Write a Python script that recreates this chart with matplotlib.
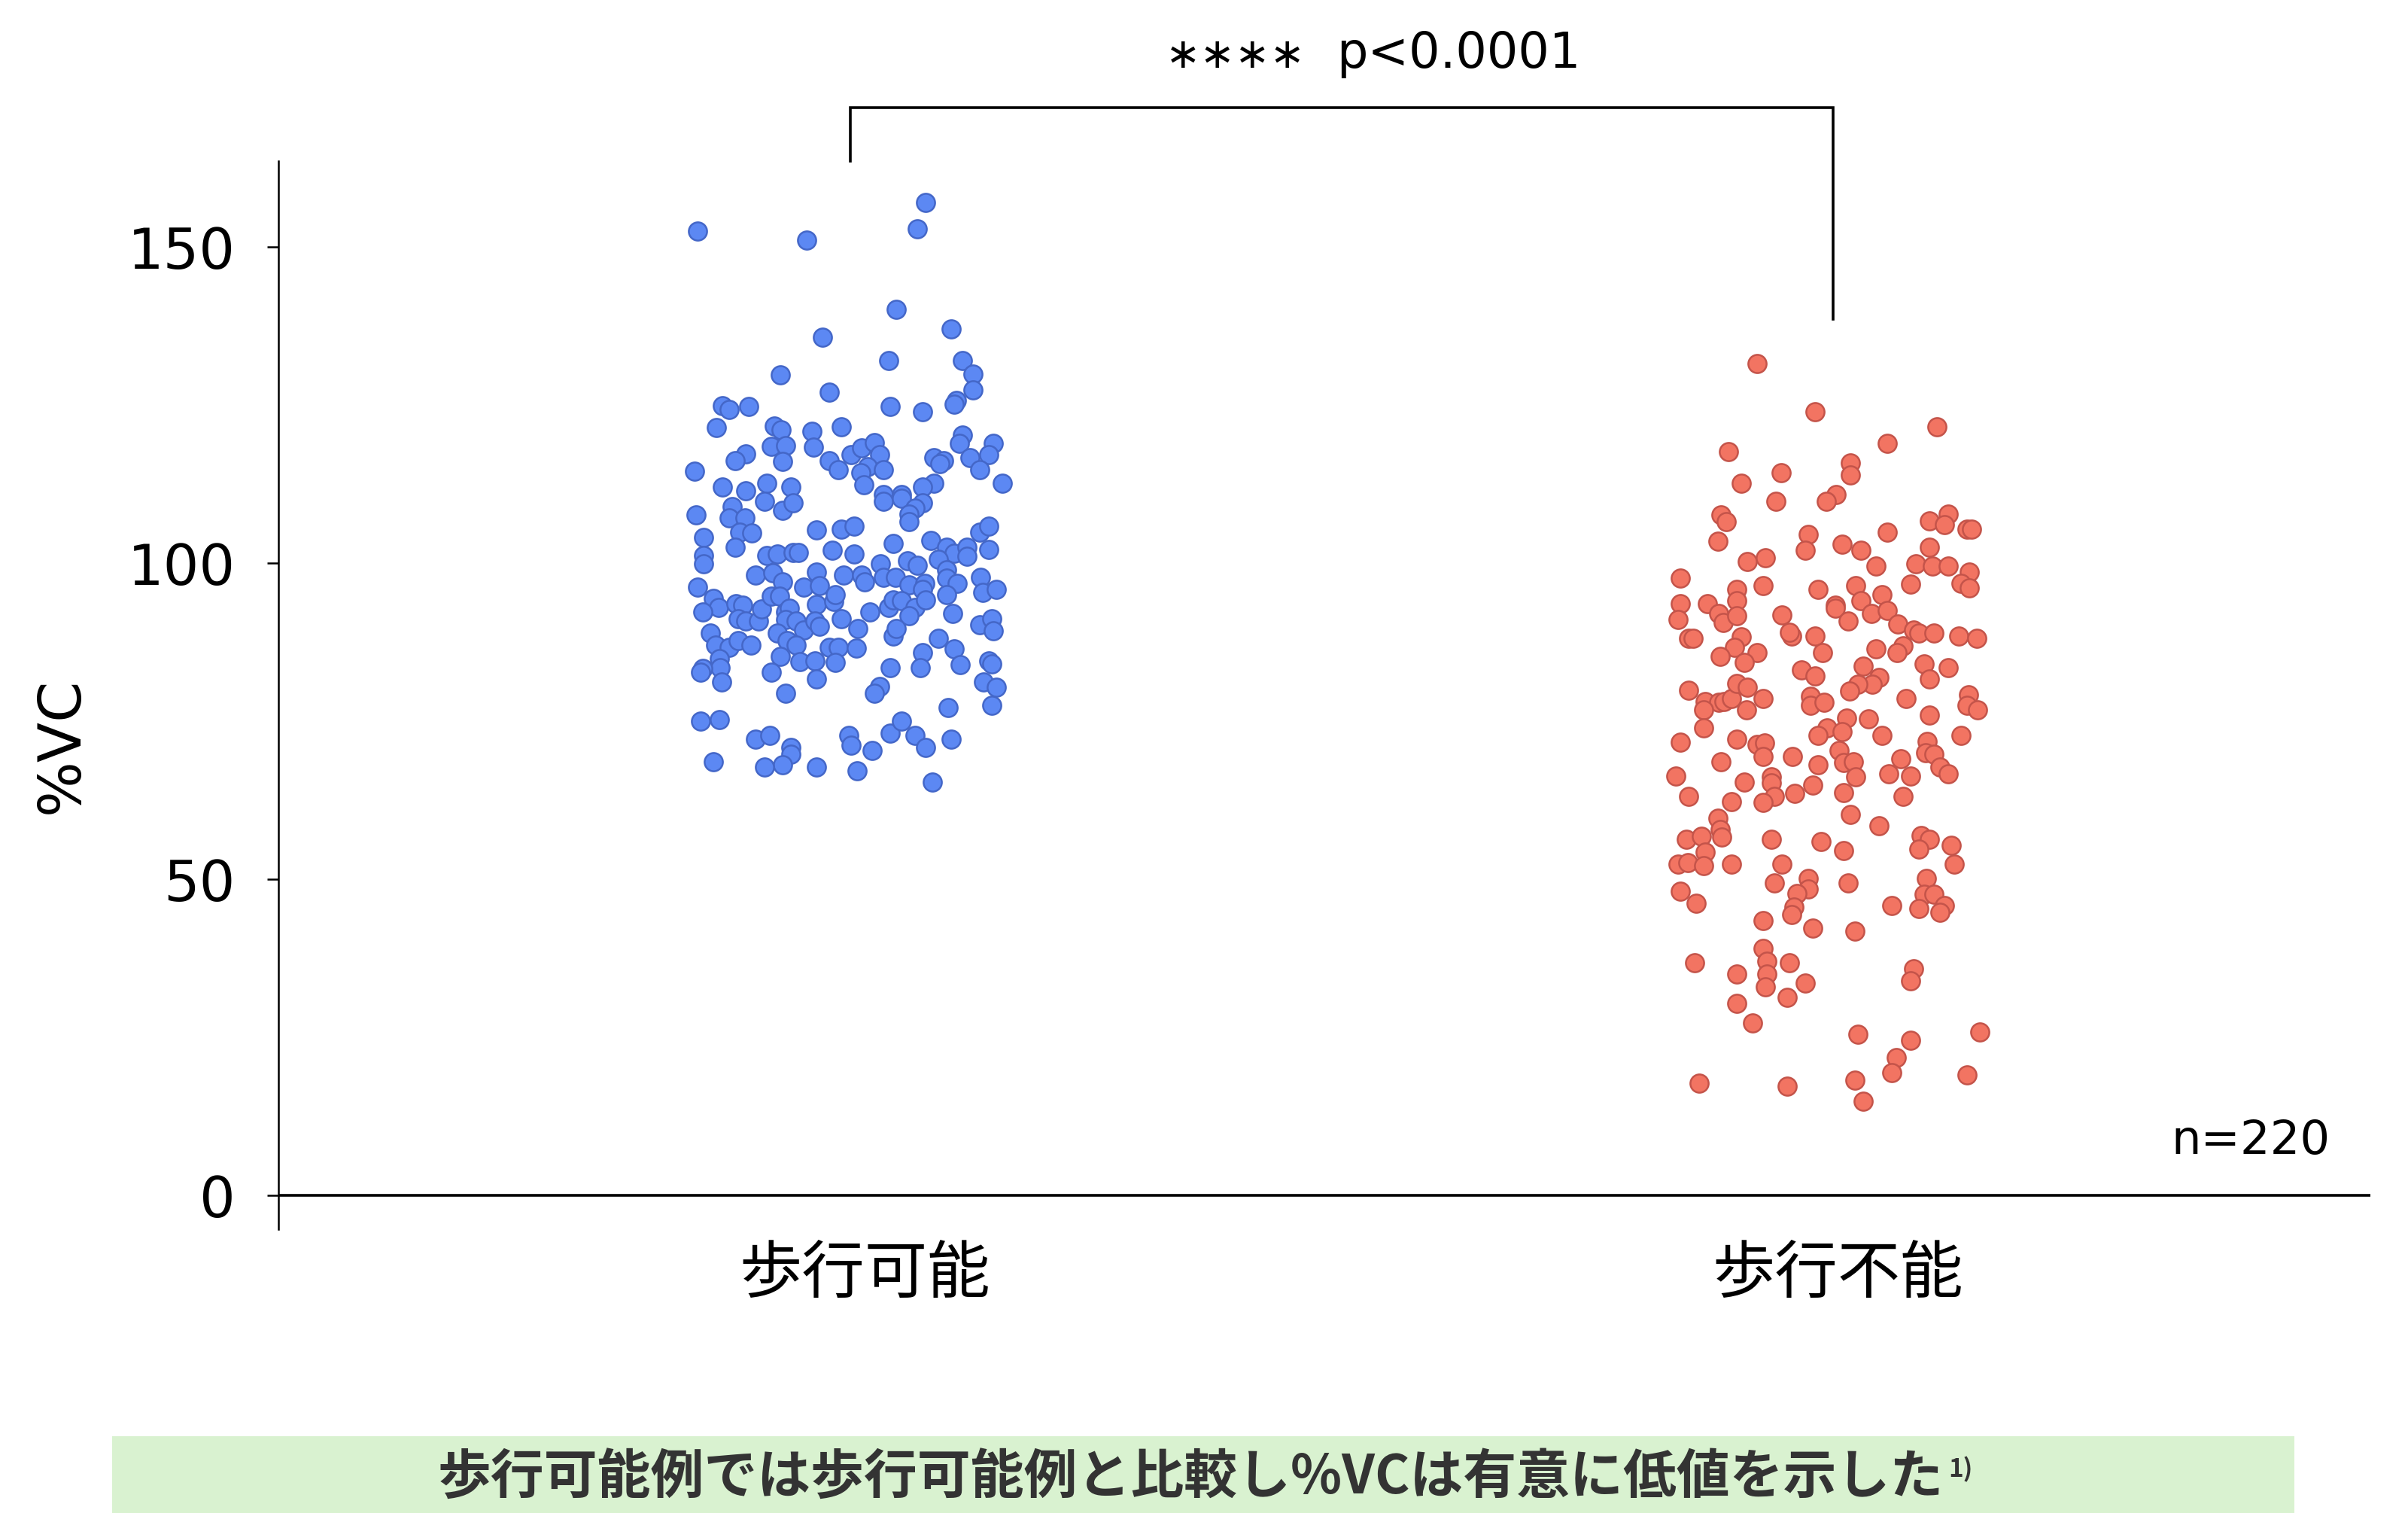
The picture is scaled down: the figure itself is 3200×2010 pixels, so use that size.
import numpy as np
import matplotlib.pyplot as plt
from matplotlib.patches import Rectangle

groups = ['歩行可能', '歩行不能']
yticks = [0, 50, 100, 150]
stars = '∗∗∗∗'
p_label = 'p<0.0001'
n_label = 'n=220'
banner_text = '歩行可能例では歩行可能例と比較し%VCは有意に低値を示した'
banner_ref = '1)'

# (horizontal jitter within group, %VC)
walk_pts = [
    (-0.155, 152.5), (-0.044, 151.1), (0.077, 157.1), (0.068, 152.9), (0.047, 140.2),
    (0.103, 137.1), (-0.028, 135.7), (0.039, 132.1), (0.114, 132.1), (0.125, 129.9),
    (0.125, 127.4), (-0.071, 129.8), (-0.021, 127.1), (-0.130, 124.9), (-0.123, 124.3),
    (-0.103, 124.8), (0.041, 124.8), (0.074, 124.0), (0.108, 125.8), (0.106, 125.2),
    (-0.136, 121.5), (-0.077, 121.7), (-0.070, 121.1), (-0.039, 120.9), (-0.009, 121.6),
    (0.114, 120.3), (0.111, 118.9), (0.146, 119.0), (-0.080, 118.5), (-0.066, 118.6),
    (-0.037, 118.4), (-0.106, 117.3), (-0.117, 116.2), (-0.069, 116.1), (-0.021, 116.2),
    (-0.012, 114.8), (0.001, 117.2), (0.012, 118.2), (0.025, 119.1), (0.030, 117.2),
    (0.018, 115.3), (0.011, 114.3), (0.034, 114.8), (0.014, 112.4), (0.085, 116.7),
    (0.095, 116.2), (0.091, 115.7), (0.122, 116.7), (0.141, 117.2), (0.132, 114.8),
    (-0.158, 114.5), (0.155, 112.7), (0.085, 112.7), (0.074, 112.0), (-0.130, 112.0),
    (-0.106, 111.4), (-0.085, 112.7), (-0.060, 112.0), (0.034, 110.9), (0.052, 110.9),
    (-0.087, 109.8), (-0.069, 108.4), (-0.058, 109.5), (0.034, 109.8), (0.052, 110.3),
    (0.074, 109.6), (0.066, 108.7), (0.060, 107.8), (0.060, 106.6), (-0.157, 107.7),
    (-0.120, 109.0), (-0.123, 107.2), (-0.107, 107.2), (-0.112, 104.9), (-0.100, 104.8),
    (-0.117, 102.5), (-0.149, 104.1), (-0.149, 101.2), (-0.149, 99.9), (-0.034, 105.3),
    (-0.009, 105.4), (0.004, 105.8), (0.044, 103.1), (0.082, 103.6), (0.098, 102.5),
    (0.106, 101.6), (0.119, 102.5), (0.119, 101.1), (0.132, 104.9), (0.141, 105.8),
    (0.141, 102.2), (0.090, 100.6), (-0.018, 102.1), (0.004, 101.4), (-0.085, 101.2),
    (-0.074, 101.4), (-0.058, 101.7), (-0.053, 101.7), (-0.096, 98.1), (-0.079, 98.5),
    (-0.069, 97.1), (-0.034, 98.6), (-0.047, 96.2), (-0.031, 96.5), (-0.007, 98.1),
    (0.012, 98.1), (0.015, 97.1), (0.031, 99.9), (0.034, 97.8), (0.046, 97.8),
    (0.058, 100.4), (0.068, 99.7), (0.060, 96.6), (0.076, 96.8), (0.074, 95.9),
    (0.098, 98.9), (0.098, 97.7), (0.109, 96.8), (0.098, 95.0), (0.133, 97.8),
    (0.135, 95.4), (0.149, 95.8), (-0.155, 96.2), (-0.139, 94.4), (-0.134, 93.0),
    (-0.150, 92.3), (-0.116, 93.6), (-0.109, 93.3), (-0.114, 91.2), (-0.106, 90.9),
    (-0.093, 90.9), (-0.090, 92.7), (-0.080, 94.8), (-0.072, 94.8), (-0.066, 92.3),
    (-0.062, 92.9), (-0.066, 91.1), (-0.055, 90.9), (-0.047, 89.4), (-0.034, 93.5),
    (-0.036, 90.9), (-0.031, 90.0), (-0.017, 93.9), (-0.015, 95.0), (-0.009, 91.2),
    (0.008, 89.7), (0.020, 92.3), (0.039, 93.0), (0.044, 94.2), (0.052, 94.1),
    (0.066, 93.0), (0.060, 91.7), (0.077, 94.2), (0.104, 92.1), (0.132, 90.3),
    (0.144, 91.2), (0.146, 89.3), (-0.142, 89.0), (-0.137, 87.1), (-0.123, 86.7),
    (-0.114, 87.7), (-0.101, 87.1), (-0.133, 84.9), (-0.132, 83.5), (-0.150, 83.3),
    (-0.152, 82.8), (-0.131, 81.2), (-0.074, 88.9), (-0.064, 87.7), (-0.055, 87.1),
    (-0.071, 85.3), (-0.051, 84.4), (-0.036, 84.6), (-0.080, 82.7), (-0.034, 81.7),
    (-0.066, 79.4), (-0.021, 86.7), (-0.012, 86.7), (-0.015, 84.3), (0.006, 86.6),
    (0.044, 88.5), (0.047, 89.7), (0.041, 83.5), (0.030, 80.5), (0.025, 79.4),
    (0.074, 85.9), (0.071, 83.5), (0.090, 88.1), (0.106, 86.4), (0.112, 84.0),
    (0.141, 84.6), (0.144, 84.1), (0.136, 81.2), (0.149, 80.4), (0.144, 77.5),
    (0.100, 77.2), (-0.152, 75.0), (-0.133, 75.3), (-0.096, 72.2), (-0.082, 72.7),
    (-0.060, 70.9), (-0.060, 69.8), (-0.069, 68.1), (-0.087, 67.7), (-0.139, 68.6),
    (-0.034, 67.7), (-0.001, 72.7), (0.001, 71.2), (0.022, 70.4), (0.007, 67.2),
    (0.041, 73.1), (0.052, 75.0), (0.066, 72.7), (0.077, 70.9), (0.103, 72.2),
    (0.084, 65.4),
]

nonwalk_pts = [
    (-0.077, 131.6), (-0.018, 123.9), (0.106, 121.6), (0.055, 119.0), (-0.106, 117.6),
    (-0.053, 114.3), (-0.093, 112.6), (-0.058, 109.8), (0.018, 115.8), (0.018, 113.9),
    (0.003, 110.8), (-0.007, 109.8), (-0.114, 107.7), (-0.109, 106.6), (-0.117, 103.5),
    (-0.025, 104.6), (-0.028, 102.1), (0.009, 103.0), (0.028, 102.1), (0.055, 104.9),
    (0.098, 106.7), (0.117, 107.8), (0.113, 106.1), (0.136, 105.4), (0.141, 105.4),
    (0.098, 102.5), (0.044, 99.5), (0.084, 99.9), (0.101, 99.5), (0.117, 99.5),
    (0.139, 98.6), (0.130, 96.8), (0.139, 96.1), (0.079, 96.7), (-0.087, 100.3),
    (-0.069, 100.8), (-0.155, 97.7), (-0.071, 96.4), (-0.098, 95.9), (-0.015, 95.9),
    (0.023, 96.5), (0.050, 95.0), (-0.155, 93.6), (-0.128, 93.6), (-0.098, 94.1),
    (0.002, 93.4), (0.028, 94.1), (-0.158, 91.1), (-0.116, 92.1), (-0.112, 90.6),
    (-0.098, 91.7), (-0.147, 88.1), (-0.142, 88.1), (-0.052, 91.8), (-0.042, 88.5),
    (-0.044, 89.1), (0.002, 92.9), (0.015, 90.8), (0.039, 92.1), (0.055, 92.5),
    (0.066, 90.4), (0.082, 89.4), (0.087, 88.9), (0.103, 88.9), (0.128, 88.5),
    (0.146, 88.1), (-0.018, 88.5), (-0.011, 85.8), (0.044, 86.4), (0.071, 86.9),
    (0.065, 85.9), (-0.093, 88.3), (-0.100, 86.7), (-0.077, 85.8), (-0.115, 85.3),
    (-0.090, 84.3), (0.093, 84.1), (0.098, 81.7), (0.117, 83.5), (0.031, 83.7),
    (0.047, 81.9), (0.040, 80.8), (0.025, 80.8), (0.017, 79.8), (-0.032, 83.1),
    (-0.018, 82.2), (-0.147, 79.9), (-0.130, 78.1), (-0.116, 78.0), (-0.111, 78.1),
    (-0.103, 78.6), (-0.098, 81.0), (-0.087, 80.4), (-0.071, 78.6), (-0.132, 76.8),
    (-0.088, 76.8), (-0.132, 74.0), (-0.023, 79.0), (-0.023, 77.5), (-0.009, 78.0),
    (0.074, 78.6), (0.138, 79.2), (0.136, 77.5), (0.147, 76.8), (0.098, 76.0),
    (0.014, 75.5), (0.036, 75.4), (-0.006, 74.0), (-0.015, 72.8), (0.009, 73.4),
    (0.050, 72.7), (0.130, 72.7), (-0.155, 71.7), (-0.098, 72.2), (-0.077, 71.3),
    (-0.070, 71.6), (-0.071, 69.4), (-0.041, 69.4), (0.006, 70.4), (0.011, 68.5),
    (0.021, 68.6), (0.023, 66.2), (-0.015, 68.1), (0.096, 71.8), (0.094, 70.0),
    (0.103, 69.8), (0.109, 67.7), (0.117, 66.7), (0.069, 69.1), (0.057, 66.7),
    (0.079, 66.3), (0.071, 63.1), (-0.114, 68.6), (-0.160, 66.3), (-0.090, 65.4),
    (-0.063, 66.2), (-0.063, 65.3), (-0.060, 63.1), (-0.071, 62.2), (-0.039, 63.6),
    (-0.021, 64.9), (0.011, 63.7), (-0.147, 63.1), (-0.103, 62.3), (0.018, 60.3),
    (0.047, 58.5), (-0.117, 59.7), (-0.115, 57.9), (-0.113, 56.7), (-0.149, 56.3),
    (-0.134, 56.8), (-0.130, 54.3), (-0.063, 56.3), (-0.012, 56.0), (0.011, 54.5),
    (0.090, 56.9), (0.098, 56.3), (0.087, 54.8), (0.120, 55.4), (-0.158, 52.4),
    (-0.148, 52.6), (-0.132, 52.2), (-0.103, 52.4), (-0.052, 52.4), (0.123, 52.4),
    (-0.155, 48.1), (-0.139, 46.2), (-0.060, 49.4), (-0.025, 50.1), (-0.025, 48.5),
    (-0.037, 47.8), (-0.040, 45.6), (-0.042, 44.4), (-0.021, 42.3), (-0.071, 43.5),
    (0.015, 49.4), (0.022, 41.8), (0.060, 45.9), (0.095, 50.1), (0.093, 47.6),
    (0.103, 47.6), (0.087, 45.4), (0.113, 45.9), (0.109, 44.8), (-0.141, 36.8),
    (-0.098, 35.0), (-0.071, 39.1), (-0.067, 37.0), (-0.067, 35.0), (-0.069, 33.0),
    (-0.044, 36.8), (-0.028, 33.6), (-0.047, 31.3), (-0.098, 30.4), (-0.082, 27.3),
    (0.082, 35.9), (0.079, 33.9), (0.025, 25.5), (0.079, 24.5), (0.149, 25.8),
    (0.064, 21.8), (0.060, 19.4), (0.136, 19.1), (-0.136, 17.7), (-0.047, 17.3),
    (0.022, 18.2), (0.031, 14.9),
]

plt.rcParams['font.family'] = ['DejaVu Sans', 'Noto Sans CJK JP']

fig = plt.figure(figsize=(16, 10.05), dpi=200)
ax = fig.add_axes([0.1155, 0.1878, 0.869, 0.7057])

fills = ['#5c88f3', '#f27462']
edges = ['#4467c8', '#c4544a']
for i, pts in enumerate([walk_pts, nonwalk_pts]):
    jit, vc = np.array(pts).T
    ax.scatter(i + jit, vc, s=76, c=fills[i], edgecolors=edges[i],
               linewidths=0.9, zorder=3)

ax.set_xlim(-0.582, 1.547)
ax.set_ylim(-5.3, 163.6)
ax.axhline(0, color='black', lw=1.3, zorder=2)
for s in ['top', 'right', 'bottom']:
    ax.spines[s].set_visible(False)
ax.spines['left'].set_linewidth(0.9)

ax.set_yticks(yticks)
ax.tick_params(axis='y', labelsize=27, length=5.5, width=0.9, pad=15)
ax.set_xticks([0.015, 1.005])
ax.set_xticklabels(groups, fontsize=30, family=['Noto Sans CJK JP'])
ax.tick_params(axis='x', length=0, pad=6)

fig.text(82 / 3200, 0.5075, '%VC', rotation=90, ha='center', va='center', fontsize=28)

# significance bracket
ax.plot([0, 0, 1, 1], [163.6, 172.1, 172.1, 138.6], color='black', lw=1.3,
        clip_on=False, solid_joinstyle='miter')
ax.text(0.392, 178.4, stars, ha='center', va='baseline', fontsize=20, clip_on=False)
ax.text(0.495, 178.4, p_label, ha='left', va='baseline', fontsize=23.5, clip_on=False)

ax.text(1.506, 6.5, n_label, ha='right', va='baseline', fontsize=22.5)

# bottom banner
fig.patches.append(Rectangle((149 / 3200, 0), 2900 / 3200, 0.0507,
                             transform=fig.transFigure, facecolor='#d9f2d0',
                             edgecolor='none', zorder=0))
t = fig.text(582 / 3200, 0.0234, banner_text, ha='left', va='center', fontsize=25.5,
             fontweight='bold', color='#333333', family=['Noto Sans CJK JP'])
r = fig.canvas.get_renderer()
bb = t.get_window_extent(r)
fig.text(bb.x1 / fig.bbox.width + 0.002, bb.y1 / fig.bbox.height - 0.004, banner_ref,
         ha='left', va='top', fontsize=12, fontweight='bold', color='#333333',
         family=['Noto Sans CJK JP'])

fig.savefig('out.png', dpi=200)
